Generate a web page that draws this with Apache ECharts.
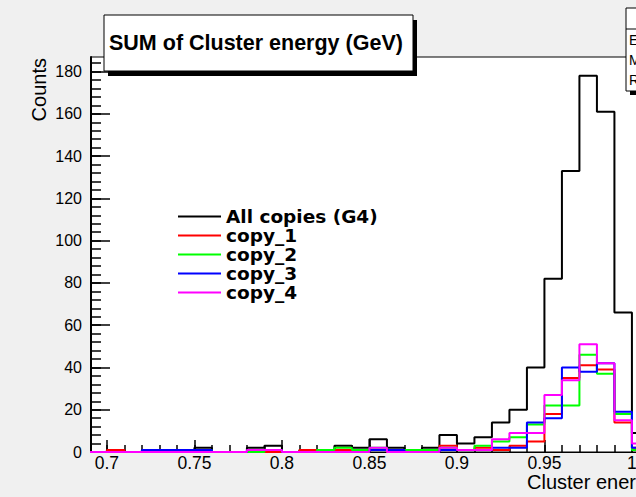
<!DOCTYPE html>
<html>
<head>
<meta charset="utf-8">
<script src="https://cdn.jsdelivr.net/npm/echarts@6/dist/echarts.min.js"></script>
<style>html,body{margin:0;padding:0;background:#f0f0f0}#c{width:636px;height:497px}</style>
</head>
<body>
<div id="c"></div>
<script>
// bin left edges (bin width 0.01)
const binLeftEdges = [0.69,0.70,0.71,0.72,0.73,0.74,0.75,0.76,0.77,0.78,0.79,0.80,0.81,0.82,0.83,0.84,0.85,0.86,0.87,0.88,0.89,0.90,0.91,0.92,0.93,0.94,0.95,0.96,0.97,0.98,0.99,1.00];
const binWidth = 0.01;
const allCopies = [0,1,0,1,1,1,2,0,0,2,3,0,1,1,3,2,6,2,1,2,8,4,7,14,20,40,82,133,178,161,66,9];
const copy1 = [0,1,0,0,0,0,0,0,0,0,0,0,1,0,1,1,1,0,0,1,3,1,2,1,3,5,18,35,41,39,14,2];
const copy2 = [0,0,0,0,0,0,1,0,0,0,1,0,0,1,2,1,2,1,1,1,2,1,3,5,7,13,22,22,46,37,18,1];
const copy3 = [0,0,0,1,1,1,1,0,0,1,1,0,0,0,0,0,1,1,0,0,1,1,1,2,2,14,16,40,38,42,19,2];
const copy4 = [0,0,0,0,0,0,0,0,0,1,1,0,0,0,0,0,2,0,0,0,2,1,1,6,9,9,27,34,51,42,15,4];
const seriesNames = ['All copies (G4)','copy_1','copy_2','copy_3','copy_4'];
const seriesColors = ['#000000','#ff0000','#00ff00','#0000ff','#ff00ff'];
const xMajorTicks = [0.70,0.75,0.80,0.85,0.90,0.95,1.00];
const xMinorTicks = [0.70,0.71,0.72,0.73,0.74,0.75,0.76,0.77,0.78,0.79,0.80,0.81,0.82,0.83,0.84,0.85,0.86,0.87,0.88,0.89,0.90,0.91,0.92,0.93,0.94,0.95,0.96,0.97,0.98,0.99,1.00,1.01];
const yMajorTicks = [0,20,40,60,80,100,120,140,160,180];
const yMinorTicks = [0,4,8,12,16,20,24,28,32,36,40,44,48,52,56,60,64,68,72,76,80,84,88,92,96,100,104,108,112,116,120,124,128,132,136,140,144,148,152,156,160,164,168,172,176,180,184];
const titleText = 'SUM of Cluster energy (GeV)';
const xTitle = 'Cluster energy (GeV)';
const yTitle = 'Counts';
const statsLabels = ['Entries','Mean','RMS'];

const X_MIN = 0.6909, X_MAX = 1.02, Y_MAX = 186.9;

function histData(vals){
  const d = binLeftEdges.map((e,i)=>[e, vals[i]]);
  d.push([binLeftEdges[binLeftEdges.length-1]+binWidth, vals[vals.length-1]]);
  return d;
}
const allVals = [allCopies, copy1, copy2, copy3, copy4];

const chart = echarts.init(document.getElementById('c'), null, {renderer:'svg'});
const FONT = 'Liberation Sans, Arial, sans-serif';
const WIDE = 'DejaVu Sans, Verdana, sans-serif';
const fmtX = v => String(parseFloat((+v).toFixed(2)));

const option = {
  backgroundColor: '#f0f0f0',
  animation: false,
  title: {
    text: titleText, left: 109, top: 31, padding: 0, z: 100,
    textStyle: {fontFamily: FONT, fontSize: 21.5, fontWeight: 'bold', color: '#000', lineHeight: 24}
  },
  legend: {
    orient: 'vertical', left: 178, top: 207, itemWidth: 43, itemHeight: 2, itemGap: 0,
    icon: 'rect', padding: 0,
    data: seriesNames,
    textStyle: {fontFamily: WIDE, fontSize: 18.5, fontWeight: 'bold', color: '#000', lineHeight: 19}
  },
  grid: {
    left: 91, top: 57, width: (X_MAX - X_MIN) * 1750, height: 395,
    outerBoundsMode: 'none', containLabel: false,
    show: true, backgroundColor: '#ffffff', borderColor: '#000', borderWidth: 1
  },
  xAxis: [
    {
      type: 'value', min: X_MIN, max: X_MAX, position: 'bottom',
      axisLine: {show: true, lineStyle: {color: '#000', width: 1}},
      axisTick: {show: true, inside: true, length: 12, customValues: xMajorTicks, lineStyle: {color:'#000', width: 1.5}},
      axisLabel: {show: true, customValues: xMajorTicks, formatter: fmtX, margin: 4,
        fontFamily: FONT, fontSize: 17.5, color: '#000', lineHeight: 13},
      splitLine: {show: false}
    },
    {
      type: 'value', min: X_MIN, max: X_MAX, position: 'bottom',
      axisLine: {show: false},
      axisTick: {show: true, inside: true, length: 7, customValues: xMinorTicks, lineStyle: {color:'#000', width: 1.5}},
      axisLabel: {show: false},
      splitLine: {show: false}
    }
  ],
  yAxis: [
    {
      type: 'value', min: 0, max: Y_MAX, position: 'left',
      axisLine: {show: true, lineStyle: {color: '#000', width: 2}},
      axisTick: {show: true, inside: true, length: 19, customValues: yMajorTicks, lineStyle: {color:'#000', width: 1.5}},
      axisLabel: {show: true, customValues: yMajorTicks, margin: 9, fontFamily: FONT, fontSize: 16, color: '#000'},
      splitLine: {show: false}
    },
    {
      type: 'value', min: 0, max: Y_MAX, position: 'left', offset: 0,
      axisLine: {show: false},
      axisTick: {show: true, inside: true, length: 10, customValues: yMinorTicks, lineStyle: {color:'#000', width: 1.5}},
      axisLabel: {show: false},
      splitLine: {show: false}
    }
  ],
  series: seriesNames.map((name, k) => ({
    name: name, type: 'line', step: 'end', xAxisIndex: 0, yAxisIndex: 0,
    data: histData(allVals[k]),
    showSymbol: false, symbol: 'none', clip: true,
    color: seriesColors[k],
    lineStyle: {color: seriesColors[k], width: 2},
    itemStyle: {color: seriesColors[k]},
    z: 2 + k
  })),
  graphic: [
    {type: 'rect', z: 50, shape: {x: 108, y: 20, width: 309, height: 56}, style: {fill: '#000'}},
    {type: 'rect', z: 51, shape: {x: 104, y: 15, width: 309, height: 56}, style: {fill: '#fff', stroke: '#000', lineWidth: 1}},
    {type: 'rect', z: 50, shape: {x: 630, y: 12, width: 80, height: 83}, style: {fill: '#000'}},
    {type: 'rect', z: 51, shape: {x: 626, y: 8, width: 80, height: 83}, style: {fill: '#fff', stroke: '#000', lineWidth: 1}},
    {type: 'line', z: 52, shape: {x1: 626, y1: 29, x2: 706, y2: 29}, style: {stroke: '#000', lineWidth: 1}},
    {type: 'text', z: 52, x: 629, y: 40, style: {text: statsLabels[0], fill: '#000', font: '14px ' + FONT, textVerticalAlign: 'middle'}},
    {type: 'text', z: 52, x: 629, y: 60, style: {text: statsLabels[1], fill: '#000', font: '14px ' + FONT, textVerticalAlign: 'middle'}},
    {type: 'text', z: 52, x: 629, y: 80, style: {text: statsLabels[2], fill: '#000', font: '14px ' + FONT, textVerticalAlign: 'middle'}},
    {type: 'text', z: 52, x: 39, y: 58, rotation: Math.PI/2,
      style: {text: yTitle, fill: '#000', font: '20px ' + FONT, textAlign: 'right', textVerticalAlign: 'middle'}},
    {type: 'text', z: 52, x: 527, y: 482,
      style: {text: xTitle, fill: '#000', font: '20px ' + FONT, textAlign: 'left', textVerticalAlign: 'middle', lineHeight: 14}}
  ]
};
chart.setOption(option);
</script>
</body>
</html>
